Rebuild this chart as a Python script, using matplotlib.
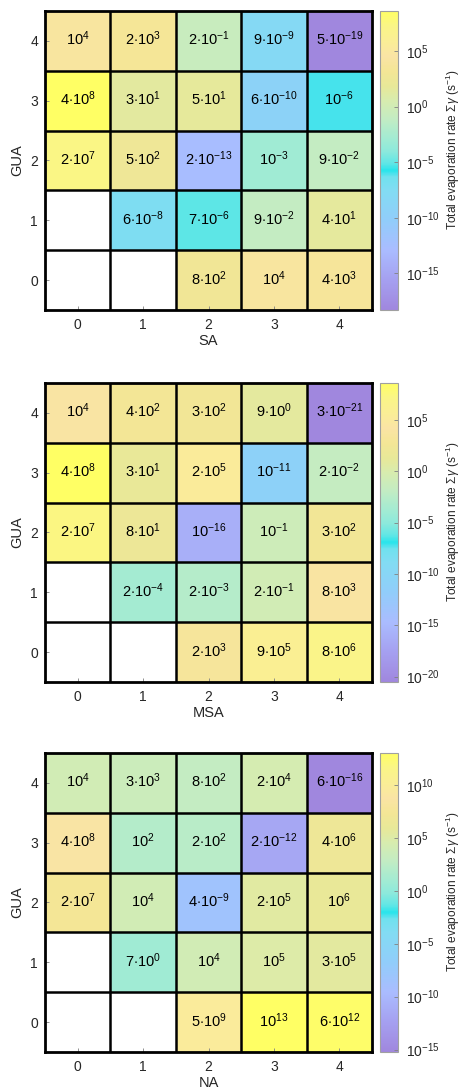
import numpy as np
import matplotlib
matplotlib.use("Agg")
import matplotlib.pyplot as plt
from matplotlib.colors import LinearSegmentedColormap, LogNorm

plt.rcParams['font.family'] = ['Liberation Sans', 'DejaVu Sans']
plt.rcParams['mathtext.fontset'] = 'custom'
plt.rcParams['mathtext.rm'] = 'Liberation Sans'
plt.rcParams['mathtext.it'] = 'Liberation Sans:italic'
plt.rcParams['mathtext.bf'] = 'Liberation Sans:bold'

nan = np.nan
tick_labels = [0, 1, 2, 3, 4]
y_name = "GUA"
x_names = ["SA", "MSA", "NA"]

# rows: GUA = 0..4 (bottom to top), columns: x = 0..4
rates_SA = [
    [nan, nan, 8e2, 1e4, 4e3],
    [nan, 6e-8, 7e-6, 9e-2, 4e1],
    [2e7, 5e2, 2e-13, 1e-3, 9e-2],
    [4e8, 3e1, 5e1, 6e-10, 1e-6],
    [1e4, 2e3, 2e-1, 9e-9, 5e-19],
]
rates_MSA = [
    [nan, nan, 2e3, 9e5, 8e6],
    [nan, 2e-4, 2e-3, 2e-1, 8e3],
    [2e7, 8e1, 1e-16, 1e-1, 3e2],
    [4e8, 3e1, 2e5, 1e-11, 2e-2],
    [1e4, 4e2, 3e2, 9e0, 3e-21],
]
rates_NA = [
    [nan, nan, 5e9, 1e13, 6e12],
    [nan, 7e0, 1e4, 1e5, 3e5],
    [2e7, 1e4, 4e-9, 2e5, 1e6],
    [4e8, 1e2, 2e2, 2e-12, 4e6],
    [1e4, 3e3, 8e2, 2e4, 6e-16],
]
panels = [rates_SA, rates_MSA, rates_NA]

anchors = [
    (0.00, (160, 135, 222)),
    (0.10, (165, 160, 240)),
    (0.20, (170, 188, 255)),
    (0.30, (145, 205, 250)),
    (0.40, (130, 220, 243)),
    (0.445, (112, 225, 238)),
    (0.467, (40, 228, 235)),
    (0.49, (95, 230, 230)),
    (0.53, (140, 233, 220)),
    (0.57, (160, 235, 212)),
    (0.64, (195, 236, 195)),
    (0.70, (215, 236, 175)),
    (0.75, (232, 232, 152)),
    (0.80, (244, 230, 150)),
    (0.85, (250, 228, 165)),
    (0.90, (250, 238, 150)),
    (0.95, (250, 245, 135)),
    (1.00, (255, 255, 100)),
]
cmap = LinearSegmentedColormap.from_list(
    "evap", [(f, tuple(c / 255 for c in rgb)) for f, rgb in anchors], N=512)


def fmt(v):
    e = int(np.floor(np.log10(v) + 1e-9))
    m = int(round(v / 10.0 ** e))
    if m == 10:
        m, e = 1, e + 1
    if m == 1:
        return r'$10^{%d}$' % e
    return r'$%d{\cdot}10^{%d}$' % (m, e)


W, H = 463, 1091
fig = plt.figure(figsize=(W / 100, H / 100), dpi=100)
tcol = '#262626'
tops = [11, 383, 753]
ax_h = 299

for data, xname, top in zip(panels, x_names, tops):
    arr = np.array(data, dtype=float)
    bottom = 1 - (top + ax_h) / H
    ax = fig.add_axes([45 / W, bottom, 327 / W, ax_h / H])
    vmin, vmax = np.nanmin(arr), np.nanmax(arr)
    norm = LogNorm(vmin=vmin, vmax=vmax)
    edges = np.arange(-0.5, 5.5, 1.0)
    mesh = ax.pcolormesh(edges, edges, np.ma.masked_invalid(arr), cmap=cmap,
                         norm=norm, zorder=1)
    for i in range(5):
        for j in range(5):
            v = arr[i, j]
            if np.isfinite(v):
                ax.text(j, i + 0.03, fmt(v), ha='center', va='center',
                        fontsize=10.5, color='black', zorder=4)
    for p in edges[1:-1]:
        ax.axhline(p, color='black', lw=1.8, zorder=3)
        ax.axvline(p, color='black', lw=1.8, zorder=3)
    ax.set_xlim(-0.5, 4.5)
    ax.set_ylim(-0.5, 4.5)
    ax.set_xticks(range(5))
    ax.set_yticks(range(5))
    ax.set_xticklabels(tick_labels)
    ax.set_yticklabels(tick_labels)
    ax.tick_params(direction='in', length=3, width=0.6, color='#808080',
                   labelsize=10, labelcolor=tcol, pad=6)
    ax.tick_params(axis='y', pad=5)
    for s in ax.spines.values():
        s.set_linewidth(2.0)
        s.set_color('black')
        s.set_zorder(5)
    ax.set_xlabel(xname, fontsize=10.5, color=tcol, labelpad=1)
    ax.set_ylabel(y_name, fontsize=10.5, color=tcol, labelpad=4)

    cax = fig.add_axes([380 / W, bottom, 18 / W, ax_h / H])
    cb = fig.colorbar(mesh, cax=cax)
    lo, hi = np.log10(vmin), np.log10(vmax)
    ticks = [10.0 ** k for k in range(-30, 31, 5) if lo - 1e-9 <= k <= hi + 1e-9]
    cb.set_ticks(ticks)
    cb.ax.minorticks_off()
    cb.ax.tick_params(direction='in', length=3, width=0.6, color='#808080',
                      labelsize=10, labelcolor=tcol, pad=6)
    cb.outline.set_edgecolor('#a0a0a0')
    cb.outline.set_linewidth(0.8)
    fig.text(453 / W, bottom + ax_h / H / 2 + 0.01,
             r'Total evaporation rate $\Sigma\gamma$ (s$^{-1}$)',
             rotation=90, ha='center', va='center', fontsize=8.6, color=tcol)

fig.savefig("out.png", dpi=100)
